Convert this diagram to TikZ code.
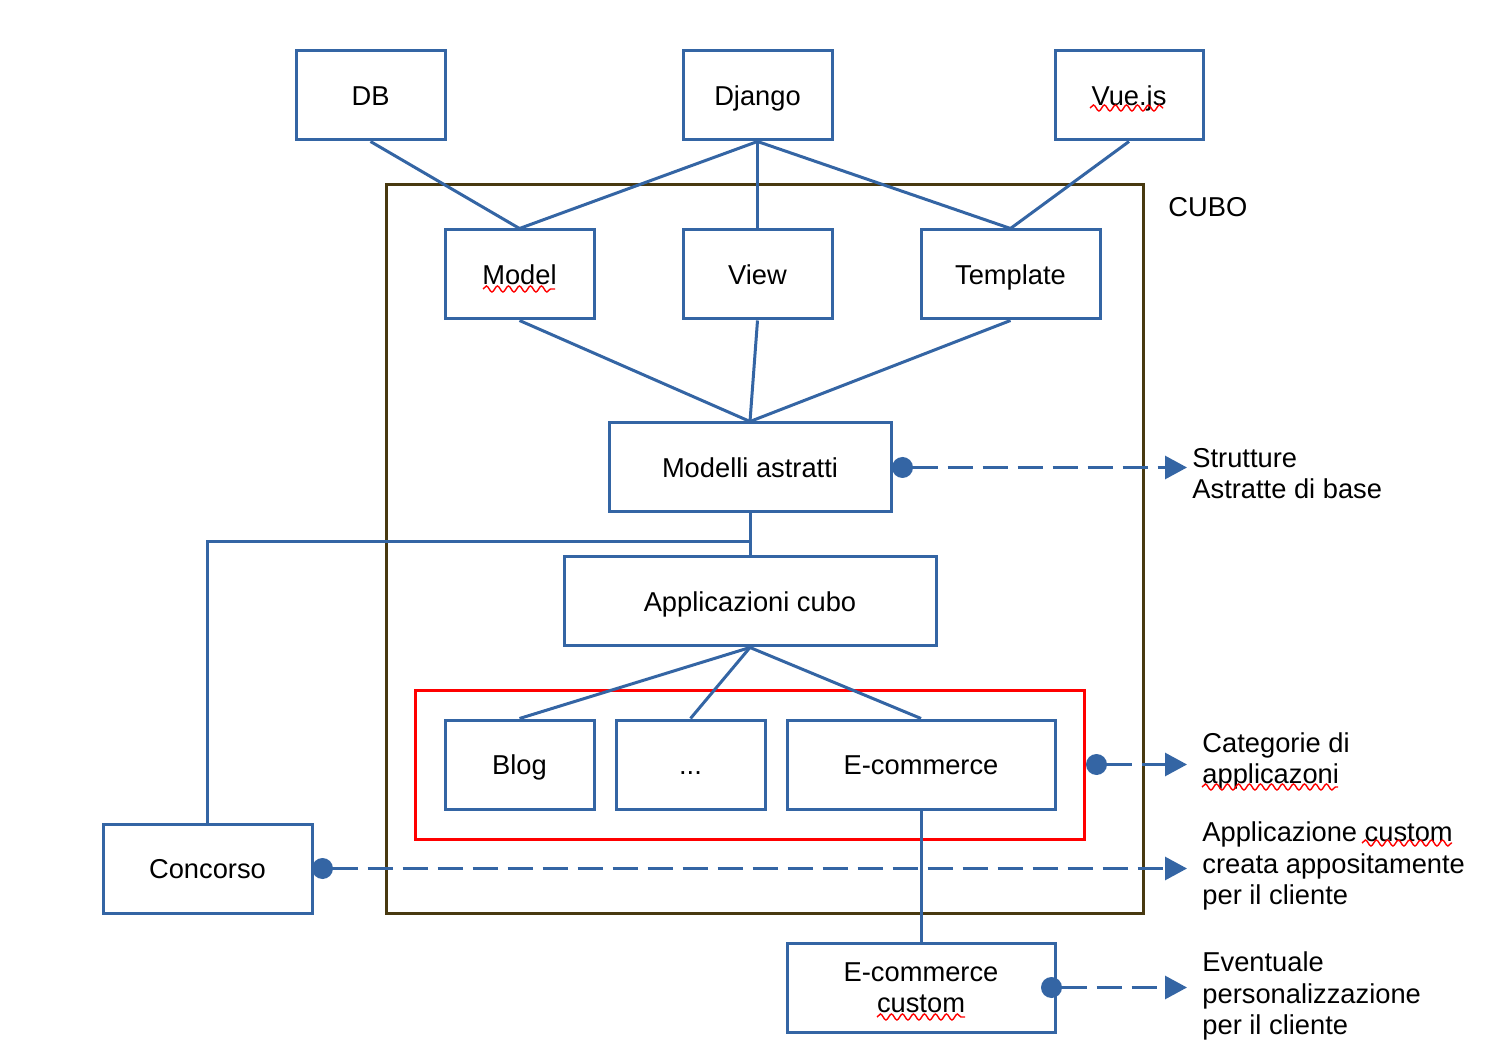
\documentclass[tikz,border=0pt]{standalone}
\usepackage{fontspec}
\setmainfont{Liberation Sans}
\usetikzlibrary{arrows.meta,decorations.pathmorphing}
\definecolor{cblue}{RGB}{52,101,164}
\definecolor{cbrown}{RGB}{72,57,16}
\newcommand{\mainfs}{\fontsize{13.65pt}{15.6pt}\selectfont}
\begin{document}
\begin{tikzpicture}[x=0.5pt,y=-0.5pt,
  boxbase/.style={draw=cblue, line width=1.5pt, inner sep=0pt, align=center, font=\mainfs},
  box/.style={boxbase, text height=9.77pt, text depth=0pt},
  conn/.style={draw=cblue, line width=1.5pt},
  dashconn/.style={cblue, line width=1.5pt, dash pattern=on 12.5pt off 5pt, -{Triangle[length=11pt,width=11.5pt]}},
  dotst/.style={circle, fill=cblue, minimum size=10.5pt, inner sep=0pt},
  lbl/.style={inner sep=0pt, align=left, font=\mainfs},
  wavy/.style={red, line width=0.7pt, decorate, decoration={snake, segment length=5.5pt, amplitude=1.5pt}}]
\useasboundingbox (0,0) rectangle (1510,1058);
% containers
\node[draw=cbrown, line width=1.5pt, minimum width=378.5pt, minimum height=364pt, inner sep=0pt] (cubo) at (764.5,549) {};
\node[lbl, anchor=west] (cubolbl) at (1168,207) {CUBO};
\node[draw=red, line width=1.5pt, minimum width=334.5pt, minimum height=74.5pt, inner sep=0pt] (redbox) at (749.5,764.5) {};
% boxes
\node[box, minimum width=74.5pt, minimum height=44.5pt] (db) at (370.5,95.5) {DB};
\node[box, minimum width=74.5pt, minimum height=44.5pt] (django) at (757.5,95.5) {Django};
\node[box, minimum width=74pt, minimum height=44.5pt] (vue) at (1129,95.5) {Vue.js};
\node[box, minimum width=74.5pt, minimum height=44.5pt] (model) at (519.5,274.5) {Model};
\node[box, minimum width=74.5pt, minimum height=44.5pt] (view) at (757.5,274.5) {View};
\node[box, minimum width=89.5pt, minimum height=44.5pt] (template) at (1010.5,274.5) {Template};
\node[box, minimum width=141pt, minimum height=44.5pt] (modelli) at (750,467.5) {Modelli astratti};
\node[box, minimum width=186pt, minimum height=44.5pt] (apps) at (750,601.5) {Applicazioni cubo};
\node[box, minimum width=74.5pt, minimum height=44.5pt] (blog) at (519.5,764.5) {Blog};
\node[box, minimum width=74.5pt, minimum height=44.5pt] (dots) at (690.5,764.5) {...};
\node[box, minimum width=134pt, minimum height=44.5pt] (ecom) at (921,764.5) {E-commerce};
\node[box, minimum width=104.5pt, minimum height=44.5pt] (concorso) at (207.5,868.5) {Concorso};
\node[boxbase, minimum width=134pt, minimum height=44.5pt] (ecomc) at (921,987.5) {E-commerce\\custom};
% connectors
\draw[conn] (db.south) -- (model.north);
\draw[conn] (django.south) -- (model.north);
\draw[conn] (django.south) -- (view.north);
\draw[conn] (django.south) -- (template.north);
\draw[conn] (vue.south) -- (template.north);
\draw[conn] (model.south) -- (modelli.north);
\draw[conn] (view.south) -- (modelli.north);
\draw[conn] (template.south) -- (modelli.north);
\draw[conn] (modelli.south) -- (apps.north);
\coordinate (junc) at (750,542);
\draw[conn] (junc) -| (concorso.north);
\draw[conn] (apps.south) -- (blog.north);
\draw[conn] (apps.south) -- (dots.north);
\draw[conn] (apps.south) -- (ecom.north);
\draw[conn] (ecom.south) -- (ecomc.north);
% dashed arrows
\node[dotst] (d1) at ([xshift=5pt]modelli.east) {};
\node[dotst] (d2) at ([xshift=5.5pt]redbox.east) {};
\node[dotst] (d3) at ([xshift=4.5pt]concorso.east) {};
\node[dotst] (d4) at ([xshift=-2.5pt]ecomc.east) {};
\coordinate (e1) at (1187,467.5);
\coordinate (e2) at (1187,764.5);
\coordinate (e3) at (1187,868.5);
\coordinate (e4) at (1187,987.5);
\draw[dashconn] ([xshift=5pt]d1.center) -- (e1);
\draw[dashconn] ([xshift=5pt]d2.center) -- (e2);
\draw[dashconn] ([xshift=5pt]d3.center) -- (e3);
\draw[dashconn] ([xshift=5pt]d4.center) -- (e4);
% labels
\node[lbl, anchor=west] (t1) at (1192,474) {Strutture\\Astratte di base};
\node[lbl, anchor=west] (t2) at (1202,761) {Categorie di\\applicazoni};
\node[lbl, anchor=west] (t3) at (1202,866) {Applicazione custom\\creata appositamente\\per il cliente};
\node[lbl, anchor=west] (t4) at (1202,996) {Eventuale\\personalizzazione\\per il cliente};
% spell-check underlines
\draw[wavy] (1090,108) -- (1163,108);
\draw[wavy] (483,289) -- (555,289);
\draw[wavy] (1202,787) -- (1338,787);
\draw[wavy] (1362,843) -- (1452,843);
\draw[wavy] (877,1017) -- (965,1017);
\end{tikzpicture}
\end{document}
